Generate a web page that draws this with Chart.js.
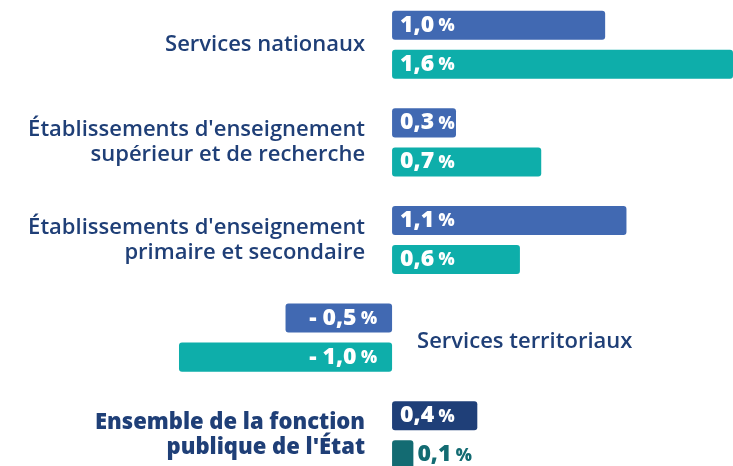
<!DOCTYPE html>
<html lang="fr">
<head>
<meta charset="utf-8">
<script src="https://cdn.jsdelivr.net/npm/chart.js@4.4.1/dist/chart.umd.min.js"></script>
<style>
  html, body { margin: 0; padding: 0; background: #fff; overflow: hidden; }
  body { width: 733px; height: 466px; position: relative; }
  #wrap { position: absolute; left: 0; top: -4px; width: 733px; height: 488px; }
</style>
</head>
<body>
<div id="wrap"><canvas id="evolChart"></canvas></div>
<script>
// categories (one entry per line of the label)
var categories = [
  ['Services nationaux'],
  ["Établissements d'enseignement", 'supérieur et de recherche'],
  ["Établissements d'enseignement", 'primaire et secondaire'],
  ['Services territoriaux'],
  ['Ensemble de la fonction', "publique de l'État"]
];
// evolution in %, first bar (blue) and second bar (teal) of each group
var firstSeries = [1.0, 0.3, 1.1, -0.5, 0.4];
var secondSeries = [1.6, 0.7, 0.6, -1.0, 0.1];

var BLUE = '#4169b2', TEAL = '#0eaeaa', NAVY = '#1f3f78', DARK_TEAL = '#136b72';
var TEXT = '#1f3f77';
var FONT = '"Open Sans"';

function fmt(v) {
  var s = Math.abs(v).toFixed(1).replace('.', ',');
  return v < 0 ? '- ' + s : s;
}

// category labels and value labels drawn by hand
var labelsPlugin = {
  id: 'labels',
  afterDraw: function (chart) {
    var ctx = chart.ctx;
    var x = chart.scales.x, y = chart.scales.y;
    var zero = x.getPixelForValue(0);
    ctx.save();
    ctx.textBaseline = 'middle';

    categories.forEach(function (lines, i) {
      var cy = y.getPixelForValue(i);
      var last = i === categories.length - 1;
      var neg = firstSeries[i] < 0;
      ctx.font = (last ? '800 ' : '600 ') + '22px ' + FONT;
      ctx.fillStyle = TEXT;
      ctx.textAlign = neg ? 'left' : 'right';
      var tx = neg ? zero + 25 : zero - 27;
      var lh = 25;
      var top = cy - (lines.length - 1) * lh / 2 + (neg ? 4 : 0);
      lines.forEach(function (l, k) { ctx.fillText(l, tx, top + k * lh); });
    });

    chart.data.datasets.forEach(function (ds, d) {
      var meta = chart.getDatasetMeta(d);
      meta.data.forEach(function (bar, i) {
        var v = ds.data[i];
        var num = fmt(v);
        ctx.font = '800 23px ' + FONT;
        var wNum = ctx.measureText(num).width;
        ctx.font = '800 17px ' + FONT;
        var wPct = ctx.measureText(' %').width;
        var total = wNum + wPct;
        // only very short bars get their label outside
        var small = Math.abs(bar.x - bar.base) < 35;
        var sx;
        if (v < 0) sx = bar.base - 15 - total;
        else if (small) sx = bar.x + 4;
        else sx = bar.base + 8;
        ctx.fillStyle = small ? DARK_TEAL : '#ffffff';
        ctx.textAlign = 'left';
        ctx.font = '800 23px ' + FONT;
        ctx.fillText(num, sx, bar.y);
        ctx.font = '800 17px ' + FONT;
        ctx.fillText(' %', sx + wNum, bar.y + 1);
      });
    });
    ctx.restore();
  }
};

function colours(base, lastColour) {
  return firstSeries.map(function (v, i) { return i === firstSeries.length - 1 ? lastColour : base; });
}

function draw() {
  new Chart(document.getElementById('evolChart'), {
    type: 'bar',
    data: {
      labels: categories,
      datasets: [
        { data: firstSeries, backgroundColor: colours(BLUE, NAVY), borderRadius: 3, borderSkipped: false },
        { data: secondSeries, backgroundColor: colours(TEAL, DARK_TEAL), borderRadius: 3, borderSkipped: false }
      ]
    },
    options: {
      indexAxis: 'y',
      responsive: true,
      maintainAspectRatio: false,
      animation: false,
      categoryPercentage: 0.8,
      barPercentage: 0.744,
      layout: { padding: 0 },
      plugins: { legend: { display: false }, tooltip: { enabled: false } },
      scales: {
        x: { display: false, min: -1.84, max: 1.6 },
        y: { display: false }
      }
    },
    plugins: [labelsPlugin]
  });
}

Promise.all([
  document.fonts.load('600 22px "Open Sans"'),
  document.fonts.load('800 22px "Open Sans"')
]).then(draw, draw);
</script>
</body>
</html>
